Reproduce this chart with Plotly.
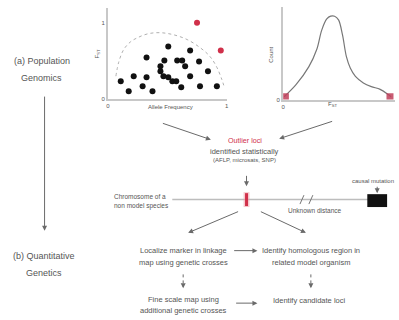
import plotly.graph_objects as go

# ---------------- data ----------------
# scatter: allele frequency vs F_ST (neutral loci)
allele_freq = [0.108, 0.175, 0.217, 0.292, 0.325, 0.325, 0.375, 0.508, 0.475, 0.442,
               0.442, 0.467, 0.508, 0.542, 0.575, 0.617, 0.583, 0.625, 0.650, 0.692,
               0.692, 0.767, 0.842, 0.775, 0.917]
fst_values = [0.234, 0.104, 0.299, 0.169, 0.286, 0.545, 0.104, 0.688, 0.506, 0.429,
              0.364, 0.299, 0.286, 0.234, 0.234, 0.156, 0.506, 0.506, 0.429, 0.299,
              0.636, 0.494, 0.364, 0.169, 0.169]
# outlier loci (red)
outlier_freq = [0.75, 0.95]
outlier_fst = [1.0, 0.636]
# dotted envelope
envelope_freq = [0.067, 0.092, 0.133, 0.19, 0.25, 0.34, 0.44, 0.55, 0.667, 0.775,
                 0.858, 0.917, 0.958, 0.975]
envelope_fst = [0.30, 0.49, 0.65, 0.75, 0.805, 0.857, 0.87, 0.844, 0.78, 0.675,
                0.56, 0.416, 0.26, 0.18]
# F_ST distribution
fst_grid = [0.009, 0.115, 0.23, 0.30, 0.345, 0.39, 0.425, 0.46, 0.495, 0.53, 0.566,
            0.60, 0.646, 0.717, 0.788, 0.867, 0.94, 0.965]
fst_count = [0.03, 0.16, 0.355, 0.54, 0.75, 0.87, 0.90, 0.90, 0.86, 0.70, 0.46,
             0.34, 0.25, 0.18, 0.14, 0.11, 0.054, 0.03]
tail_fst = [0.02, 0.955]
tail_count = [0.03, 0.03]

# ---------------- styling ----------------
FONT = "Liberation Sans"
TXT = "#555555"
LINE = "#6a6a6a"
AX = "#c8c8c8"
RED = "#d0304a"
W, H = 399, 320

def px_dom_x(a, b):
    return [a / W, b / W]

def px_dom_y(top, bottom):
    return [1 - bottom / H, 1 - top / H]

fig = go.Figure()

# invisible canvas trace
fig.add_trace(go.Scatter(x=[0, W], y=[0, H], mode="markers", marker=dict(opacity=0),
                         hoverinfo="skip", showlegend=False, xaxis="x", yaxis="y"))

# scatter panel
fig.add_trace(go.Scatter(x=envelope_freq, y=envelope_fst, mode="lines",
                         line=dict(color="#b0b0b0", width=1, dash="dot", shape="spline"),
                         showlegend=False, xaxis="x2", yaxis="y2"))
fig.add_trace(go.Scatter(x=allele_freq, y=fst_values, mode="markers",
                         marker=dict(color="#111111", size=6), showlegend=False,
                         xaxis="x2", yaxis="y2"))
fig.add_trace(go.Scatter(x=outlier_freq, y=outlier_fst, mode="markers",
                         marker=dict(color=RED, size=6), showlegend=False,
                         xaxis="x2", yaxis="y2"))

# density panel
fig.add_trace(go.Scatter(x=fst_grid, y=fst_count, mode="lines",
                         line=dict(color="#777777", width=1.2, shape="spline"),
                         showlegend=False, xaxis="x3", yaxis="y3"))
fig.add_trace(go.Scatter(x=tail_fst, y=tail_count, mode="markers",
                         marker=dict(color="#c0405a", size=7, symbol="square", opacity=0.85),
                         showlegend=False, xaxis="x3", yaxis="y3"))

axis_common = dict(showgrid=False, zeroline=False, showline=True, linecolor=AX,
                   linewidth=2, ticks="", tickfont=dict(size=6, color=TXT, family=FONT))

fig.update_layout(
    width=W, height=H, margin=dict(l=0, r=0, t=0, b=0),
    paper_bgcolor="white", plot_bgcolor="white", showlegend=False,
    xaxis=dict(domain=[0, 1], range=[0, W], visible=False, fixedrange=True),
    yaxis=dict(domain=[0, 1], range=[H, 0], visible=False, fixedrange=True),
    xaxis2=dict(domain=px_dom_x(107, 227), range=[0, 1], anchor="y2",
                tickvals=[0, 1], ticktext=["0", "1"], **axis_common),
    yaxis2=dict(domain=px_dom_y(8, 100), range=[0, 92 / 77], anchor="x2",
                tickvals=[0, 1], ticktext=["0", "1"], **axis_common),
    xaxis3=dict(domain=px_dom_x(284, 397), range=[0, 1], anchor="y3",
                tickvals=[0], ticktext=["0"], **axis_common),
    yaxis3=dict(domain=px_dom_y(7, 100.5), range=[0, 1], anchor="x3",
                tickvals=[0], ticktext=["0"], **axis_common),
)

ann = []

def text(x, y, s, size=6.5, color=TXT, angle=0, xanchor="center"):
    ann.append(dict(x=x, y=y, xref="x", yref="y", text=s, showarrow=False,
                    font=dict(size=size, color=color, family=FONT), textangle=angle,
                    xanchor=xanchor, yanchor="middle"))

def arrow(x0, y0, x1, y1, color=LINE, width=1):
    ann.append(dict(x=x1, y=y1, ax=x0, ay=y0, xref="x", yref="y", axref="x", ayref="y",
                    text="", showarrow=True, arrowhead=2, arrowsize=1, arrowwidth=width,
                    arrowcolor=color, standoff=0, startstandoff=0))

# axis titles
text(96, 55, "F<sub>ST</sub>", size=6, angle=-90)
text(170, 108.5, "Allele Frequency", size=6)
text(272, 55, "Count", size=6, angle=-90)
text(334, 105, "F<sub>ST</sub>", size=6)

# side labels
text(40, 62, "(a) Population", size=9)
text(40, 79, "Genomics", size=9)
text(42, 258, "(b) Quantitative", size=9)
text(42, 276, "Genetics", size=9)
arrow(43, 96, 43, 233)

# outlier box
arrow(161, 124, 211, 141)
arrow(335, 122, 280, 140)
text(245, 142, "Outlier loci", size=7.2, color=RED)
text(245, 152.5, "identified statistically", size=7.5)
text(245, 162, "(AFLP, microsats, SNP)", size=6)
arrow(247, 176, 247, 188)

# chromosome
text(111, 198, "Chromosome of a", size=6.5, xanchor="left")
text(111, 208, "non model species", size=6.5, xanchor="left")
text(316, 212, "Unknown distance", size=6.5)
text(375, 183, "causal mutation", size=6)
arrow(379, 187, 379, 195)

shapes = [
    dict(type="line", xref="x", yref="y", x0=172, y0=201.5, x1=370, y1=201.5,
         line=dict(color="#bdbdbd", width=1.5)),
    dict(type="line", xref="x", yref="y", x0=301, y0=206, x1=305, y1=197,
         line=dict(color="#777777", width=1)),
    dict(type="line", xref="x", yref="y", x0=310, y0=206, x1=314, y1=197,
         line=dict(color="#777777", width=1)),
    dict(type="rect", xref="x", yref="y", x0=244, y0=194, x1=250, y1=209,
         fillcolor="rgba(240,150,160,0.5)", line=dict(width=0)),
    dict(type="rect", xref="x", yref="y", x0=245.5, y0=195, x1=248.5, y1=208,
         fillcolor=RED, line=dict(width=0)),
    dict(type="rect", xref="x", yref="y", x0=369, y0=196, x1=389, y1=209,
         fillcolor="#111111", line=dict(width=0)),
    dict(type="line", xref="x", yref="y", x0=183, y0=277, x1=183, y1=287,
         line=dict(color=LINE, width=1, dash="dot")),
    dict(type="line", xref="x", yref="y", x0=312, y0=277, x1=312, y1=287,
         line=dict(color=LINE, width=1, dash="dot")),
]

# lower flow
arrow(240, 213, 188, 235)
arrow(260, 213, 307, 235)
text(183, 253, "Localize marker in linkage", size=7.5)
text(183, 264.5, "map using genetic crosses", size=7.5)
arrow(233, 253, 258, 253)
text(312, 253, "Identify homologous region in", size=7.5)
text(312, 264.5, "related model organism", size=7.5)
arrow(183, 286, 183, 291)
arrow(312, 286, 312, 291)
text(183, 302.5, "Fine scale map using", size=7.5)
text(183, 313.5, "additional genetic crosses", size=7.5)
arrow(235, 306, 258, 306)
text(310, 303, "Identify candidate loci", size=7.5)

fig.update_layout(annotations=ann, shapes=shapes)
fig.write_html("out.html",
               config={"displayModeBar": False, "staticPlot": True},
               post_script="document.body.style.margin='0';document.body.style.padding='0';")
